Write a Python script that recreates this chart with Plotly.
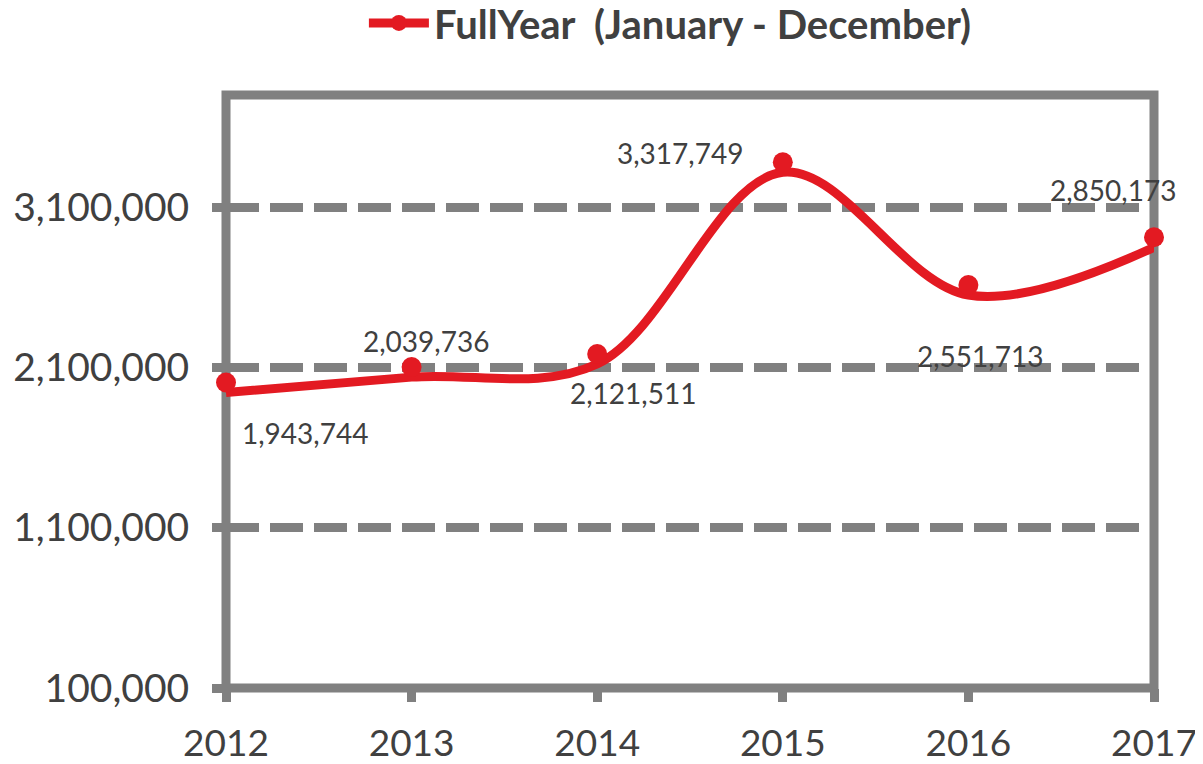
import plotly.graph_objects as go

# ---- data ----
years = [2012, 2013, 2014, 2015, 2016, 2017]
values = [1943744, 2039736, 2121511, 3317749, 2551713, 2850173]
y_tickvals = [100000, 1100000, 2100000, 3100000]
series_name = "FullYear\u00a0 (January - December)"

# label offsets (pixels) relative to each point
label_dx = [79, 14, 36, -103, 12, -41]
label_dy = [-40, 36, -29, 19, -61, 57]

RED = "#E31A22"
GRAY = "#808080"
TEXT = "#404040"
FONT = "Lato"

# the page body adds an 8px offset, so the figure is 8px smaller
W, H = 1195, 756
L, R, T, B = 218, 49, 87, 76
x_range = [2012, 2017]
y_range = [100000, 3800000]

px_per_y = (H - T - B) / (y_range[1] - y_range[0])
# markers in the reference sit slightly above the smoothed line
mdy = 10

fig = go.Figure()

fig.add_trace(go.Scatter(
    x=years, y=values, mode="lines",
    line=dict(color=RED, width=9, shape="spline", smoothing=1.0),
    showlegend=False, hoverinfo="skip", cliponaxis=False,
))

fig.add_trace(go.Scatter(
    x=years, y=values, mode="markers",
    marker=dict(color=RED, size=20),
    xaxis="x", yaxis="y2", cliponaxis=False,
    showlegend=False,
))

# legend entry
fig.add_trace(go.Scatter(
    x=[None], y=[None], mode="lines+markers", name=series_name,
    line=dict(color=RED, width=9),
    marker=dict(color=RED, size=16),
))

annotations = []
for yr, v, dx, dy in zip(years, values, label_dx, label_dy):
    annotations.append(dict(
        x=yr, y=v, xref="x", yref="y", text=f"{v:,}", showarrow=False,
        xshift=dx, yshift=dy, font=dict(family=FONT, size=28, color=TEXT),
        xanchor="center", yanchor="middle",
    ))

# plot-area frame centred on the plot edges (drawn between grid and traces)
frame = dict(
    type="rect", xref="paper", yref="paper", x0=0, x1=1, y0=0, y1=1,
    line=dict(color=GRAY, width=9), fillcolor="rgba(0,0,0,0)", layer="between",
)

fig.update_layout(
    width=W, height=H, autosize=False,
    margin=dict(l=L, r=R, t=T, b=B, pad=0, autoexpand=False),
    paper_bgcolor="white", plot_bgcolor="white",
    font=dict(family=FONT, color=TEXT),
    annotations=annotations,
    shapes=[frame],
    showlegend=True,
    legend=dict(
        orientation="h", x=0.1486, xanchor="left", y=1.1216, yanchor="middle",
        font=dict(family=FONT, size=40, color=TEXT, weight="bold"),
        bgcolor="rgba(0,0,0,0)", itemwidth=60,
    ),
    xaxis=dict(
        range=x_range, tickvals=years, ticktext=[str(y) for y in years],
        showgrid=False, zeroline=False, automargin=False, showline=False,
        ticks="outside", ticklen=13, tickwidth=9, tickcolor=GRAY,
        tickfont=dict(family=FONT, size=37, color=TEXT),
        ticklabelstandoff=10,
    ),
    yaxis=dict(
        range=y_range, tickvals=y_tickvals, tickformat=",d",
        showgrid=True, gridcolor=GRAY, gridwidth=9, griddash="33px,11px",
        zeroline=False, automargin=False, showline=False,
        ticks="outside", ticklen=13, tickwidth=9, tickcolor=GRAY,
        tickfont=dict(family=FONT, size=39, color=TEXT),
        ticklabelstandoff=15,
    ),
    yaxis2=dict(
        overlaying="y",
        range=[y_range[0] - mdy / px_per_y, y_range[1] - mdy / px_per_y],
        visible=False,
    ),
)

fig.write_html("out.html")
